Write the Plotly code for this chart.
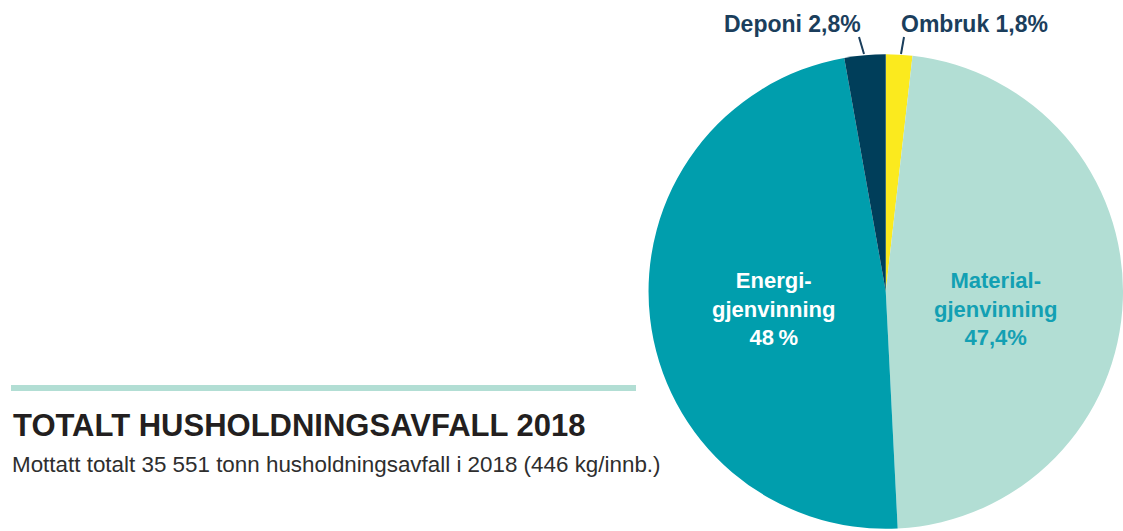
import plotly.graph_objects as go

W, H = 1123, 531

categories = ["Ombruk", "Materialgjenvinning", "Energigjenvinning", "Deponi"]
shares = [1.8, 47.4, 48.0, 2.8]
colors = ["#FBEA1E", "#B2DED4", "#009EAD", "#003E5A"]

title = "TOTALT HUSHOLDNINGSAVFALL 2018"
subtitle = "Mottatt totalt 35 551 tonn husholdningsavfall i 2018 (446 kg/innb.)"

FONT = "Liberation Sans, Arial, Helvetica, sans-serif"


def px(x):
    return x / W


def py(y):
    return 1 - y / H


fig = go.Figure(
    go.Pie(
        labels=categories,
        values=shares,
        sort=False,
        direction="clockwise",
        rotation=0,
        marker=dict(colors=colors, line=dict(width=0)),
        textinfo="none",
        hoverinfo="label+percent",
        domain=dict(x=[0.5775, 1.0], y=[0.0, 0.902]),
        showlegend=False,
    )
)

annotations = [
    dict(x=px(773), y=py(309), text="Energi-<br>gjenvinning<br>48\u2009%",
         font=dict(family=FONT, size=22, color="#FFFFFF"), xanchor="center", yanchor="middle"),
    dict(x=px(995), y=py(309), text="Material-<br>gjenvinning<br>47,4%",
         font=dict(family=FONT, size=22, color="#13A0B3"), xanchor="center", yanchor="middle"),
    dict(x=px(792), y=py(24), text="Deponi 2,8%",
         font=dict(family=FONT, size=23, color="#1B3E5C"), xanchor="center", yanchor="middle"),
    dict(x=px(974), y=py(24), text="Ombruk 1,8%",
         font=dict(family=FONT, size=23, color="#1B3E5C"), xanchor="center", yanchor="middle"),
    dict(x=px(11), y=py(425), text="<b>" + title + "</b>",
         font=dict(family=FONT, size=31, color="#231F20"), xanchor="left", yanchor="middle"),
    dict(x=px(10), y=py(464), text=subtitle,
         font=dict(family=FONT, size=22.4, color="#2E2E2E"), xanchor="left", yanchor="middle"),
]
for a in annotations:
    a.update(xref="paper", yref="paper", showarrow=False)
for a in annotations[:4]:
    a["text"] = "<b>" + a["text"] + "</b>"

shapes = [
    dict(type="rect", xref="paper", yref="paper", x0=px(11), x1=px(636), y0=py(385), y1=py(391),
         fillcolor="#B2DED4", line=dict(width=0)),
    dict(type="line", xref="paper", yref="paper", x0=px(859), y0=py(37), x1=px(864), y1=py(54),
         line=dict(color="#1B3E5C", width=2)),
    dict(type="line", xref="paper", yref="paper", x0=px(904), y0=py(37), x1=px(901), y1=py(54),
         line=dict(color="#1B3E5C", width=2)),
]

fig.update_layout(
    width=W, height=H, autosize=False,
    margin=dict(l=0, r=0, t=0, b=0),
    paper_bgcolor="#FFFFFF", plot_bgcolor="#FFFFFF",
    annotations=annotations, shapes=shapes,
)

fig.write_html(
    "out.html",
    config={"displayModeBar": False},
    post_script="document.body.style.margin='0';document.body.style.overflow='hidden';",
)
